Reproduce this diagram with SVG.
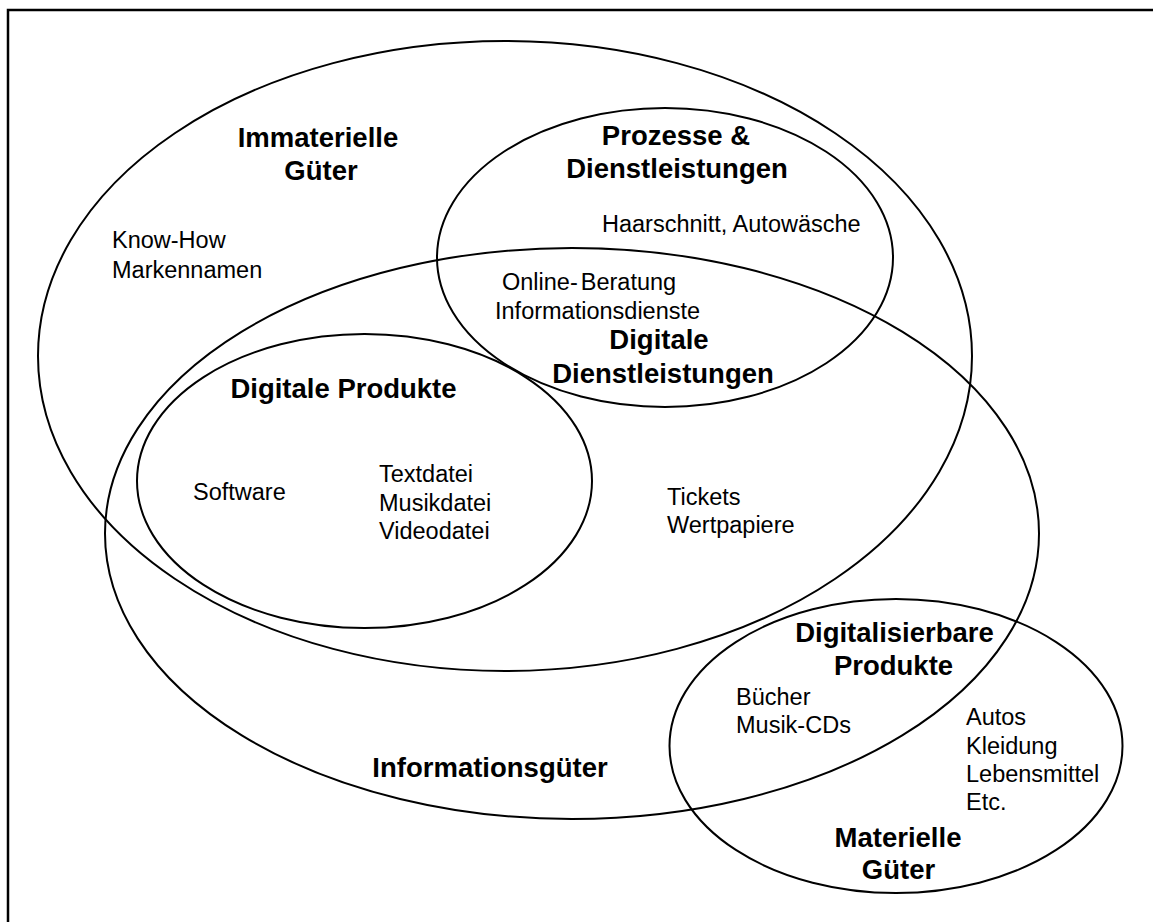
<svg xmlns="http://www.w3.org/2000/svg" width="1153" height="922" viewBox="0 0 1153 922">
<style>
  .e { fill: none; stroke: #000; stroke-width: 2; }
  .t { font-family: "Liberation Sans", Arial, sans-serif; font-size: 23.5px; fill: #000; }
  .b { font-family: "Liberation Sans", Arial, sans-serif; font-size: 27.5px; font-weight: bold; fill: #000; text-anchor: middle; }
</style>
<rect x="0" y="0" width="1153" height="922" fill="#fff"/>
<g id="frame">
  <path d="M8 922 V10 H1153" fill="none" stroke="#000" stroke-width="2.5"/>
</g>
<g id="immaterielle-gueter">
  <ellipse class="e" cx="505" cy="356" rx="467" ry="315"/>
  <text class="b" x="318" y="147">Immaterielle</text>
  <text class="b" x="321" y="180">Güter</text>
  <text class="t" x="112" y="248">Know-How</text>
  <text class="t" x="112" y="277.5">Markennamen</text>
</g>
<g id="prozesse-dienstleistungen">
  <ellipse class="e" cx="665" cy="257.5" rx="228" ry="149.5"/>
  <text class="b" x="676" y="145">Prozesse &amp;</text>
  <text class="b" x="677" y="178">Dienstleistungen</text>
  <text class="t" x="602" y="232">Haarschnitt, Autowäsche</text>
</g>
<g id="informationsgueter">
  <ellipse class="e" cx="572" cy="533.5" rx="467" ry="285.5"/>
  <text class="b" x="490" y="777">Informationsgüter</text>
  <text class="t" x="667" y="505">Tickets</text>
  <text class="t" x="667" y="533">Wertpapiere</text>
</g>
<g id="digitale-dienstleistungen">
  <text class="t" x="502" y="290">Online-<tspan dx="3">Beratung</tspan></text>
  <text class="t" x="495" y="319">Informationsdienste</text>
  <text class="b" x="659" y="349">Digitale</text>
  <text class="b" x="663" y="383">Dienstleistungen</text>
</g>
<g id="digitale-produkte">
  <ellipse class="e" cx="364.5" cy="481" rx="227.5" ry="147"/>
  <text class="b" x="343.5" y="398">Digitale Produkte</text>
  <text class="t" x="193" y="500">Software</text>
  <text class="t" x="379" y="482">Textdatei</text>
  <text class="t" x="379" y="510.5">Musikdatei</text>
  <text class="t" x="379" y="539">Videodatei</text>
</g>
<g id="materielle-gueter">
  <ellipse class="e" cx="896" cy="746" rx="226.5" ry="147"/>
  <text class="t" x="966" y="725">Autos</text>
  <text class="t" x="966" y="754">Kleidung</text>
  <text class="t" x="966" y="782">Lebensmittel</text>
  <text class="t" x="966" y="810">Etc.</text>
  <text class="b" x="898" y="847">Materielle</text>
  <text class="b" x="898.5" y="879">Güter</text>
</g>
<g id="digitalisierbare-produkte">
  <text class="b" x="894.5" y="642">Digitalisierbare</text>
  <text class="b" x="893.5" y="675">Produkte</text>
  <text class="t" x="736" y="705">Bücher</text>
  <text class="t" x="736" y="733">Musik-CDs</text>
</g>
<g id="connectors"/>
</svg>
